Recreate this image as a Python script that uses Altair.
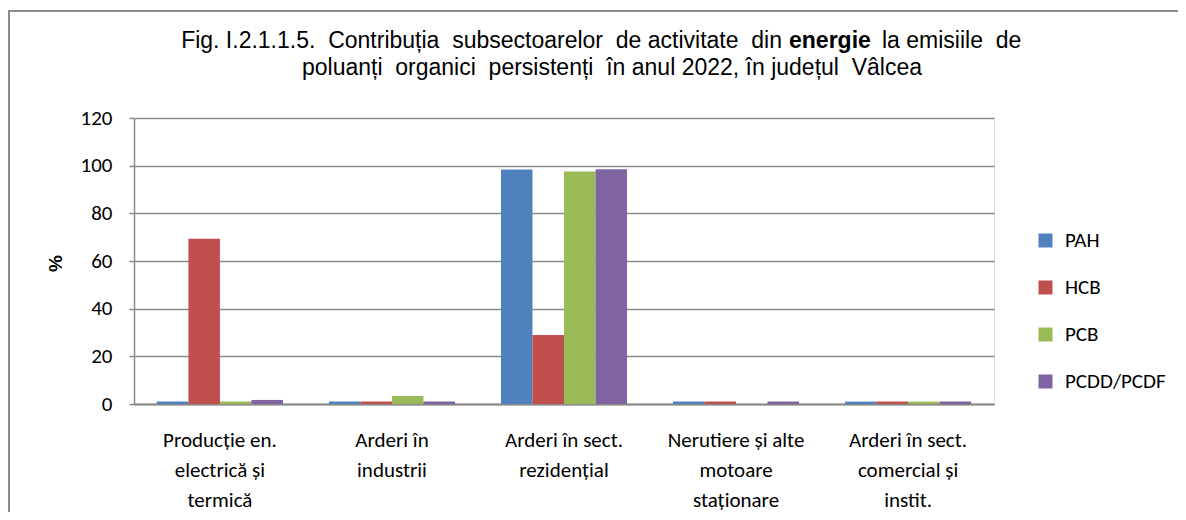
import altair as alt
import pandas as pd

categories = [
    "Producție en.|electrică și|termică",
    "Arderi în|industrii",
    "Arderi în sect.|rezidențial",
    "Nerutiere și alte|motoare|staționare",
    "Arderi în sect.|comercial și|instit.",
]
series = ["PAH", "HCB", "PCB", "PCDD/PCDF"]
colors = ["#4F81BD", "#C0504D", "#9BBB59", "#8064A2"]

pah = [1.0, 1.0, 98.4, 1.0, 1.0]
hcb = [69.3, 1.0, 29.0, 1.0, 1.0]
pcb = [1.0, 3.4, 97.6, 0.0, 1.0]
pcdd = [1.7, 1.0, 98.5, 1.0, 1.0]

y_ticks = [0, 20, 40, 60, 80, 100, 120]

NB = "\u00a0"
title_part1 = f"Fig. I.2.1.1.5.{NB} Contribuția{NB} subsectoarelor{NB} de activitate{NB} din"
title_bold = "energie"
title_part3 = f"la emisiile{NB} de"
title_line2 = f"poluanți{NB} organici{NB} persistenți{NB} în anul 2022, în județul{NB} Vâlcea"

rows = []
for s, vals in zip(series, [pah, hcb, pcb, pcdd]):
    for c, v in zip(categories, vals):
        rows.append({"cat": c, "series": s, "value": v})
df = pd.DataFrame(rows)

LABEL_FONT = "Carlito, Lato, sans-serif"
TITLE_FONT = "Liberation Sans, Arial, sans-serif"
GRAY = "#8a8a8a"

bars = alt.Chart(df).mark_bar().encode(
    x=alt.X(
        "cat:N",
        sort=categories,
        scale=alt.Scale(paddingInner=0.267, paddingOuter=0.133),
        axis=alt.Axis(
            title=None,
            labelAngle=0,
            labelExpr="split(datum.label, '|')",
            labelFont=LABEL_FONT,
            labelFontSize=21,
            labelColor="black",
            labelLineHeight=30,
            labelPadding=25,
            ticks=False,
            domainColor=GRAY,
            domainWidth=2,
            grid=False,
        ),
    ),
    xOffset=alt.XOffset("series:N", sort=series,
                        scale=alt.Scale(paddingInner=0, paddingOuter=0)),
    y=alt.Y(
        "value:Q",
        scale=alt.Scale(domain=[0, 120], nice=False),
        axis=alt.Axis(
            values=y_ticks,
            title="%",
            titleFont=TITLE_FONT,
            titleFontSize=19,
            titleFontWeight="bold",
            titleColor="black",
            titleX=-79,
            titleY=145,
            titleAngle=270,
            titleAlign="center",
            titleBaseline="middle",
            labelFont=LABEL_FONT,
            labelFontSize=21,
            labelColor="black",
            labelPadding=17,
            tickSize=5,
            tickColor=GRAY,
            tickWidth=1.5,
            domainColor=GRAY,
            domainWidth=1.5,
            gridColor=GRAY,
            gridWidth=1.5,
        ),
    ),
    color=alt.Color(
        "series:N",
        sort=series,
        scale=alt.Scale(domain=series, range=colors),
        legend=alt.Legend(
            title=None,
            orient="none",
            legendX=901,
            legendY=112,
            symbolType="square",
            symbolSize=196,
            symbolStrokeWidth=0,
            labelFont=LABEL_FONT,
            labelFontSize=21,
            labelColor="black",
            labelOffset=9,
            rowPadding=25,
        ),
    ),
)

one = pd.DataFrame({"k": [0]})


def txt(text, x, y, align, weight="normal"):
    return alt.Chart(one).mark_text(
        font=TITLE_FONT, fontSize=23, fontWeight=weight, align=align,
        baseline="alphabetic", color="black",
    ).encode(x=alt.value(x), y=alt.value(y), text=alt.value(text))


t1 = txt(title_part1, 648, -70, "right")
t2 = txt(title_bold, 655, -70, "left", "bold")
t3 = txt(title_part3, 748, -70, "left")
t4 = txt(title_line2, 478, -43, "center")

border_top = alt.Chart(one).mark_rule(color="#8c8c8c", strokeWidth=2).encode(
    x=alt.value(-126), x2=alt.value(1060), y=alt.value(-107)
)
border_left = alt.Chart(one).mark_rule(color="#8c8c8c", strokeWidth=2).encode(
    x=alt.value(-125), y=alt.value(-107), y2=alt.value(400)
)

chart = alt.layer(border_top, border_left, bars, t1, t2, t3, t4).properties(
    width=860,
    height=286,
    autosize=alt.AutoSizeParams(type="none"),
    padding={"left": 126, "top": 110, "right": 184, "bottom": 108},
).configure_view(stroke=None).configure(background="white")

chart.save("out.html", embed_options={"renderer": "svg", "actions": False})
